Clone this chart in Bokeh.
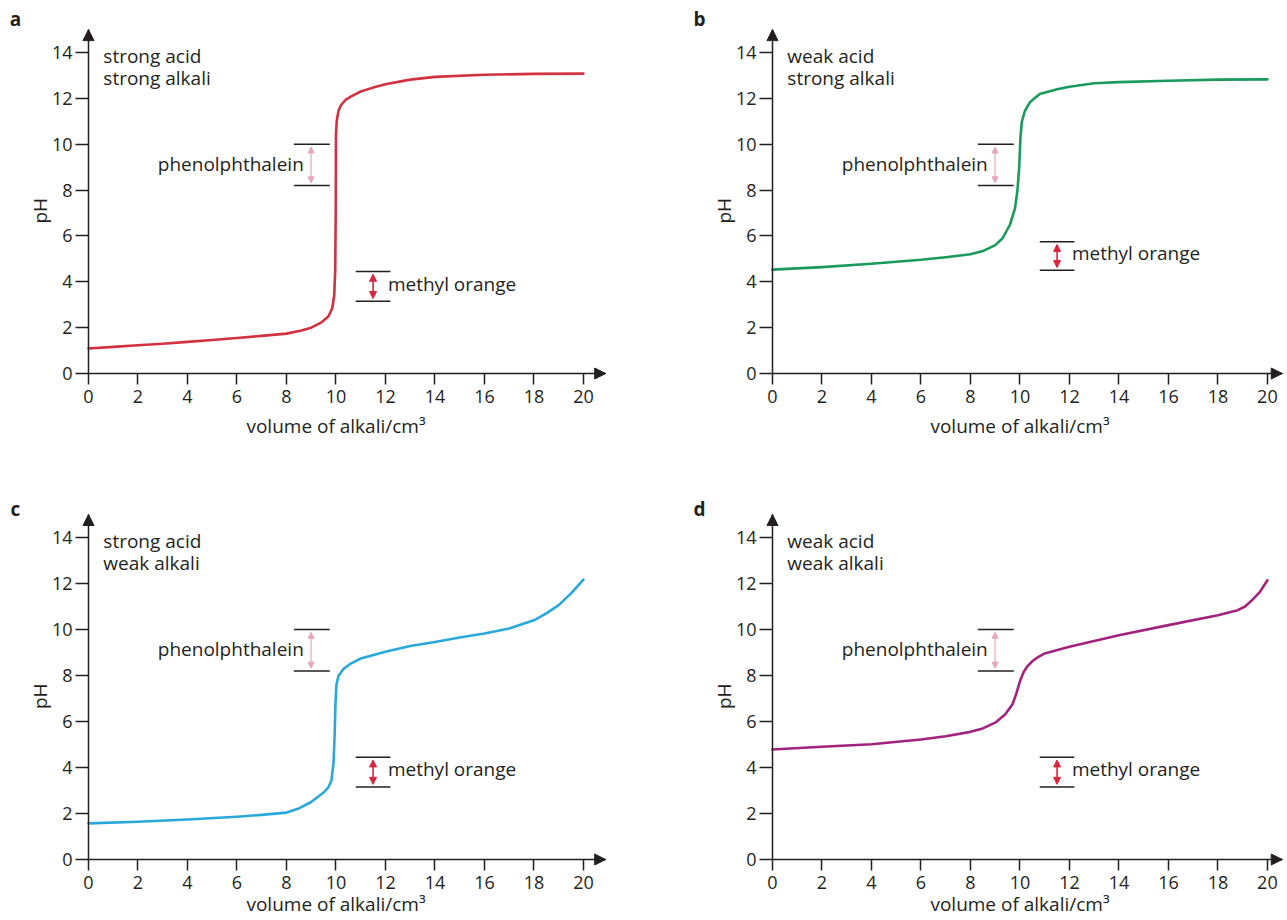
import math
from bokeh.plotting import figure
from bokeh.models import Arrow, NormalHead, Label, FixedTicker, Range1d
from bokeh.layouts import row, column
from bokeh.embed import file_html
from bokeh.resources import INLINE

FONT = "Open Sans"
TEXT = "#231f20"
FS = "19px"
TICK_FS = "18px"

# ---------------- data ----------------
x_ticks = [0, 2, 4, 6, 8, 10, 12, 14, 16, 18, 20]
y_ticks = [0, 2, 4, 6, 8, 10, 12, 14]
x_title = "volume of alkali/cm³"
y_title = "pH"

panel_tags = ["a", "b", "c", "d"]
panel_line1 = ["strong acid", "weak acid", "strong acid", "weak acid"]
panel_line2 = ["strong alkali", "strong alkali", "weak alkali", "weak alkali"]
curve_colors = ["#d2313f", "#1a9a5b", "#29a8dc", "#a2237d"]

vol_a = [0, 1, 2, 3, 4, 5, 6, 7, 8, 8.6, 9.0, 9.4, 9.7, 9.85, 9.93, 9.97, 9.99, 10.0, 10.03, 10.1, 10.2,
         10.4, 10.6, 11.0, 11.5, 12, 13, 14, 16, 18, 20]
ph_a = [1.09, 1.16, 1.23, 1.3, 1.38, 1.46, 1.55, 1.64, 1.74, 1.88, 2.0, 2.22, 2.5, 2.85, 3.4, 4.5, 7.0, 10.4,
        11.0, 11.45, 11.7, 11.95, 12.08, 12.3, 12.47, 12.62, 12.82, 12.94, 13.03, 13.07, 13.08]

vol_b = [0, 2, 4, 6, 7, 8, 8.5, 9, 9.3, 9.6, 9.8, 9.9, 9.97, 10.02, 10.08, 10.2, 10.4, 10.8, 11.5, 12,
         13, 14, 16, 18, 20]
ph_b = [4.53, 4.64, 4.79, 4.96, 5.07, 5.2, 5.34, 5.6, 5.9, 6.5, 7.2, 8.0, 9.0, 10.3, 11.0, 11.45, 11.83,
        12.19, 12.4, 12.51, 12.66, 12.71, 12.77, 12.82, 12.83]

vol_c = [0, 2, 4, 6, 7, 8, 8.5, 9, 9.5, 9.7, 9.82, 9.9, 9.95, 9.98, 10.02, 10.1, 10.3, 10.6, 11, 12, 13,
         14, 15, 16, 17, 18, 18.5, 19, 19.5, 20]
ph_c = [1.57, 1.64, 1.74, 1.86, 1.94, 2.04, 2.22, 2.5, 2.91, 3.15, 3.45, 4.2, 5.5, 6.8, 7.6, 7.98, 8.28,
        8.52, 8.74, 9.03, 9.28, 9.46, 9.65, 9.83, 10.04, 10.4, 10.7, 11.06, 11.57, 12.17]

vol_d = [0, 2, 4, 6, 7, 8, 8.5, 9, 9.4, 9.7, 9.85, 10.0, 10.15, 10.3, 10.5, 10.7, 11, 12, 13, 14, 16, 18,
         18.8, 19.1, 19.4, 19.7, 20]
ph_d = [4.78, 4.9, 5.01, 5.22, 5.36, 5.55, 5.7, 5.95, 6.3, 6.75, 7.2, 7.75, 8.15, 8.4, 8.62, 8.78, 8.96,
        9.25, 9.5, 9.75, 10.19, 10.62, 10.84, 11.0, 11.3, 11.64, 12.14]

# indicator ranges (pH) and bracket positions (cm3)
phenol_low = 8.2
phenol_high = 10.0
mo_low = [3.15, 4.5, 3.15, 3.15]
mo_high = [4.45, 5.75, 4.45, 4.45]
phenol_x = [8.3, 9.75]
mo_x = [10.8, 12.2]

# ---------------- layout numbers ----------------
axis_x_end = [20.9, 20.6, 20.9, 20.6]
axis_y_end = 15.0
x_ranges = [(-3.556, 22.63), (-5.01, 20.65), (-3.556, 22.63), (-5.01, 20.65)]
y_ranges = [(-5.277, 16.27), (-5.277, 16.27), (-2.478, 15.87), (-2.478, 15.87)]
widths = [648, 635, 648, 635]
heights = [494, 494, 422, 422]
xtitle_y = [-2.27, -2.27, -1.93, -1.93]
tag_y = [15.45, 15.45, 15.25, 15.25]


def make_panel(i, vol, ph):
    p = figure(width=widths[i], height=heights[i], output_backend="svg", toolbar_location=None,
               title=None, x_range=Range1d(*x_ranges[i]), y_range=Range1d(*y_ranges[i]),
               min_border=0)
    p.background_fill_color = "white"
    p.border_fill_color = "white"
    p.outline_line_color = None
    p.xgrid.visible = False
    p.ygrid.visible = False

    for ax, ticks, standoff, tout, bnd in ((p.xaxis, x_ticks, 5, 11, (0, axis_x_end[i])),
                                           (p.yaxis, y_ticks, 3, 13, (0, axis_y_end))):
        ax.fixed_location = 0
        ax.bounds = bnd
        ax.ticker = FixedTicker(ticks=ticks)
        ax.axis_line_color = TEXT
        ax.axis_line_width = 1.5
        ax.major_tick_line_color = TEXT
        ax.major_tick_line_width = 1.5
        ax.major_tick_in = 0
        ax.major_tick_out = tout
        ax.minor_tick_in = 0
        ax.minor_tick_out = 0
        ax.major_label_text_font = FONT
        ax.major_label_text_font_size = TICK_FS
        ax.major_label_text_color = TEXT
        ax.major_label_standoff = standoff

    # axis arrowheads
    p.add_layout(Arrow(end=NormalHead(size=11, fill_color=TEXT, line_color=TEXT, line_width=1),
                       x_start=axis_x_end[i] - 0.4, y_start=0, x_end=axis_x_end[i], y_end=0,
                       line_color=TEXT, line_width=1.5))
    p.add_layout(Arrow(end=NormalHead(size=11, fill_color=TEXT, line_color=TEXT, line_width=1),
                       x_start=0, y_start=axis_y_end - 0.4, x_end=0, y_end=axis_y_end,
                       line_color=TEXT, line_width=1.5))

    # curve
    p.line(vol, ph, line_color=curve_colors[i], line_width=2.6, line_join="round", line_cap="round")

    # phenolphthalein bracket
    p.segment(x0=[phenol_x[0]] * 2, x1=[phenol_x[1]] * 2, y0=[phenol_low, phenol_high],
              y1=[phenol_low, phenol_high], line_color=TEXT, line_width=1.5)
    px = 0.5 * (phenol_x[0] + phenol_x[1]) - 0.03
    p.add_layout(Arrow(start=NormalHead(size=6, fill_color="#e8a6bd", line_color="#e8a6bd"),
                       end=NormalHead(size=6, fill_color="#e8a6bd", line_color="#e8a6bd"),
                       x_start=px, y_start=phenol_low + 0.12, x_end=px, y_end=phenol_high - 0.12,
                       line_color="#e8a6bd", line_width=1.2))
    p.add_layout(Label(x=phenol_x[0] + 0.4, y=0.5 * (phenol_low + phenol_high) + 0.05, text="phenolphthalein",
                       text_align="right", text_baseline="middle", text_font=FONT,
                       text_font_size=FS, text_color=TEXT))

    # methyl orange bracket
    p.segment(x0=[mo_x[0]] * 2, x1=[mo_x[1]] * 2, y0=[mo_low[i], mo_high[i]],
              y1=[mo_low[i], mo_high[i]], line_color=TEXT, line_width=1.5)
    mx = 0.5 * (mo_x[0] + mo_x[1])
    p.add_layout(Arrow(start=NormalHead(size=7, fill_color="#d7263d", line_color="#d7263d"),
                       end=NormalHead(size=7, fill_color="#d7263d", line_color="#d7263d"),
                       x_start=mx, y_start=mo_low[i] + 0.12, x_end=mx, y_end=mo_high[i] - 0.12,
                       line_color="#d7263d", line_width=1.6))
    p.add_layout(Label(x=mo_x[1] - 0.1, y=0.5 * (mo_low[i] + mo_high[i]) + 0.12, text="methyl orange",
                       text_align="left", text_baseline="middle", text_font=FONT,
                       text_font_size=FS, text_color=TEXT))

    # panel texts
    for txt, yy in ((panel_line1[i], 13.86), (panel_line2[i], 12.9)):
        p.add_layout(Label(x=0.6, y=yy, text=txt, text_align="left", text_baseline="middle",
                           text_font=FONT, text_font_size=FS, text_color=TEXT))
    p.add_layout(Label(x=-2.95, y=tag_y[i], text=panel_tags[i], text_align="center", text_baseline="middle",
                       text_font=FONT, text_font_size=FS, text_font_style="bold", text_color=TEXT))
    p.add_layout(Label(x=10, y=xtitle_y[i], text=x_title, text_align="center", text_baseline="middle",
                       text_font=FONT, text_font_size=FS, text_color=TEXT))
    p.add_layout(Label(x=-1.95, y=7.1, text=y_title, angle=math.pi / 2, text_align="center",
                       text_baseline="middle", text_font=FONT, text_font_size=FS, text_color=TEXT))
    return p


pa = make_panel(0, vol_a, ph_a)
pb = make_panel(1, vol_b, ph_b)
pc = make_panel(2, vol_c, ph_c)
pd = make_panel(3, vol_d, ph_d)

layout = column(row(pa, pb), row(pc, pd))
open("out.html", "w").write(file_html(layout, INLINE))
